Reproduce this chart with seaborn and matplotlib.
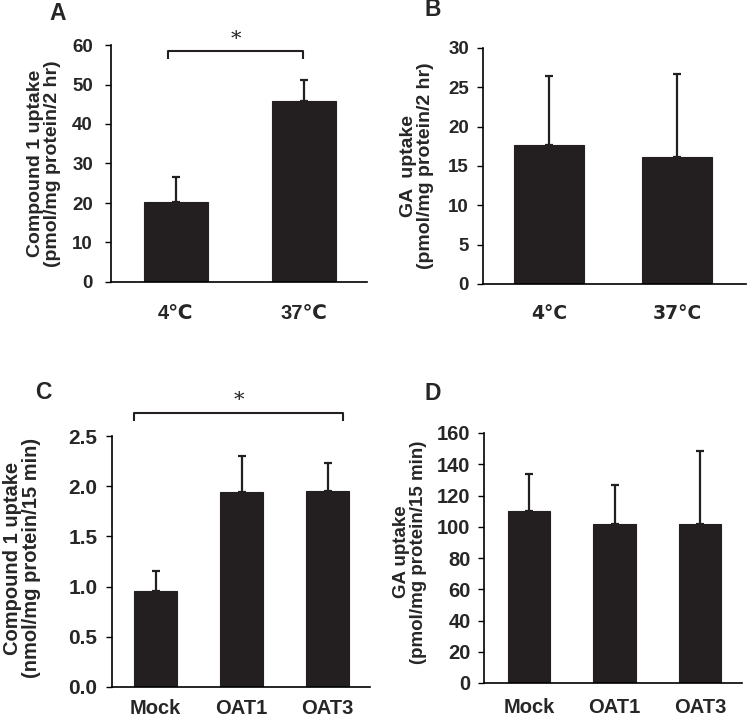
import matplotlib
matplotlib.use("Agg")
import matplotlib.pyplot as plt
import seaborn as sns
import numpy as np
import pandas as pd

# ---------------- data ----------------
temp_cats_A = ["4\u2103", "37\u2103"]
temp_cats_B = ["4\u00b0C", "37\u00b0C"]
cell_cats = ["Mock", "OAT1", "OAT3"]

a_mean = [20.2, 45.8]
a_sd = [6.3, 5.3]
b_mean = [17.7, 16.1]
b_sd = [8.8, 10.6]
c_mean = [0.96, 1.94, 1.95]
c_sd = [0.20, 0.36, 0.28]
d_mean = [110.0, 101.5, 102.0]
d_sd = [24.0, 25.0, 46.5]

ylabel_A = "Compound 1 uptake\n(pmol/mg protein/2 hr)"
ylabel_B = "GA  uptake\n(pmol/mg protein/2 hr)"
ylabel_C = "Compound 1 uptake\n(nmol/mg protein/15 min)"
ylabel_D = "GA uptake\n(pmol/mg protein/15 min)"

# ---------------- style ----------------
sns.set_style("ticks")
plt.rcParams["font.family"] = ["Liberation Sans", "DejaVu Sans"]
plt.rcParams["font.weight"] = "bold"

BAR = "#231f20"
W, H = 747, 719
fig = plt.figure(figsize=(W / 100, H / 100), dpi=100)


def px_axes(left, right, top, bottom):
    return fig.add_axes([left / W, 1 - bottom / H, (right - left) / W, (bottom - top) / H])


def panel(ax, cats, mean, sd, width, ylim, yticks, fmt, xlim, ylabel, label_x, label_y,
          ytick_fs, ytick_pad, xtick_fs, xtick_pad, ylabel_fs, xtick_family=None):
    df = pd.DataFrame({"cat": cats, "val": mean})
    sns.barplot(data=df, x="cat", y="val", ax=ax, color=BAR, width=width,
                errorbar=None, saturation=1, edgecolor=BAR, linewidth=0.8)
    x = np.arange(len(cats))
    ax.errorbar(x, mean, yerr=[np.zeros(len(sd)), sd], fmt="none", ecolor=BAR,
                elinewidth=1.6, capsize=3, capthick=1.6, zorder=1)
    ax.set_ylim(*ylim)
    ax.set_xlim(*xlim)
    ax.set_yticks(yticks)
    ax.set_yticklabels([fmt.format(v) for v in yticks], fontsize=ytick_fs, fontweight="bold")
    ax.set_xticks(x)
    kw = {}
    if xtick_family is not None:
        kw["family"] = xtick_family
    ax.set_xticklabels(cats, fontsize=xtick_fs, fontweight="bold", **kw)
    ax.tick_params(axis="x", length=0, pad=xtick_pad)
    ax.tick_params(axis="y", length=4, width=1.0, pad=ytick_pad, color="black")
    ax.set_xlabel("")
    ax.set_ylabel(ylabel, fontsize=ylabel_fs, fontweight="bold", ha="center", va="center",
                  linespacing=1.0)
    ax.yaxis.set_label_coords(label_x, label_y)
    for s in ["top", "right"]:
        ax.spines[s].set_visible(False)
    for s in ["left", "bottom"]:
        ax.spines[s].set_linewidth(1.2)
        ax.spines[s].set_color("black")
    ax.set_facecolor("white")


def bracket(ax, x0, x1, y, drop, star_y):
    ax.plot([x0, x0, x1, x1], [y - drop, y, y, y - drop], color=BAR, lw=1.5,
            clip_on=False, solid_capstyle="butt")
    ax.text((x0 + x1) / 2, star_y, "*", ha="center", va="center", fontsize=15,
            fontweight="normal", family="DejaVu Serif", color=BAR, clip_on=False)


# Panel A
axA = px_axes(111, 367, 45, 282)
panel(axA, temp_cats_A, a_mean, a_sd, 0.5, (0, 60), [0, 10, 20, 30, 40, 50, 60], "{:.0f}",
      (-0.506, 1.49), ylabel_A, (44 - 111) / 256, 0.5, 13.5, 9, 14.5, 16, 14)
bracket(axA, -0.06, 0.99, 58.5, 2.0, 61.5)

# Panel B
axB = px_axes(483, 746, 48, 284)
panel(axB, temp_cats_B, b_mean, b_sd, 0.55, (0, 30), [0, 5, 10, 15, 20, 25, 30], "{:.0f}",
      (-0.514, 1.54), ylabel_B, (417 - 483) / 263, 0.5, 13.5, 6, 13.5, 14.5, 14,
      xtick_family=["DejaVu Sans"])

# Panel C
axC = px_axes(111.5, 370, 436, 687)
panel(axC, cell_cats, c_mean, c_sd, 0.51, (0, 2.5), [0, 0.5, 1.0, 1.5, 2.0, 2.5], "{:.1f}",
      (-0.512, 2.494), ylabel_C, (22 - 111.5) / 258.5, 0.514, 15, 6, 14.5, 8.5, 14.5)
bracket(axC, -0.25, 2.18, 2.729, 0.08, 2.85)

# Panel D
axD = px_axes(484.5, 742, 433, 683)
panel(axD, cell_cats, d_mean, d_sd, 0.5, (0, 160), [0, 20, 40, 60, 80, 100, 120, 140, 160],
      "{:.0f}", (-0.52, 2.49), ylabel_D, (410 - 484.5) / 257.5, 0.524, 14.5, 6, 14.5, 10.5, 13.5)

# Panel letters
for lab, (px, py) in {"A": (58, 13), "B": (433, 10), "C": (43, 392), "D": (433, 394)}.items():
    fig.text(px / W, 1 - py / H, lab, ha="center", va="center", fontsize=16.5,
             fontweight="bold")

fig.savefig("out.png", dpi=100, facecolor="white")
